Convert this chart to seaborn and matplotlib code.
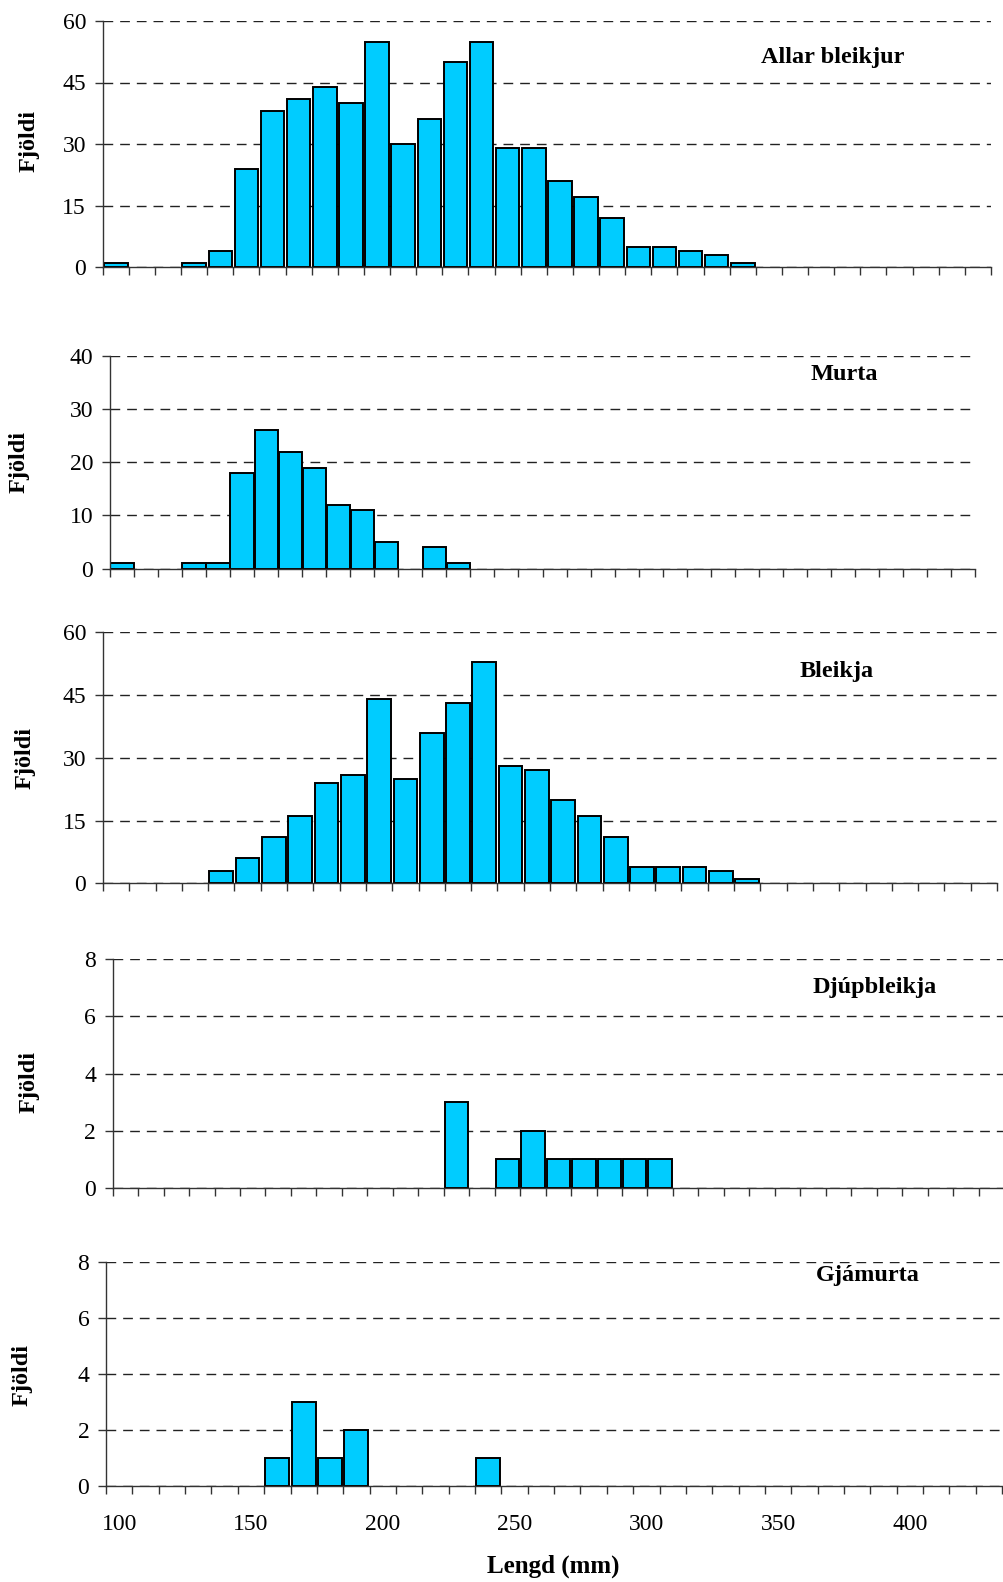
import numpy as np
import pandas as pd
import matplotlib
matplotlib.use("Agg")
import matplotlib.pyplot as plt
import seaborn as sns

# ---------------- data ----------------
categories = ["100", "110", "120", "130", "140", "150", "160", "170", "180", "190",
              "200", "210", "220", "230", "240", "250", "260", "270", "280", "290",
              "300", "310", "320", "330", "340", "350", "360", "370", "380", "390",
              "400", "410", "420", "430", "440", "450"]

allar_bleikjur = [1, 0, 0, 1, 4, 24, 38, 41, 44, 40, 55, 30, 36, 50, 55, 29, 29, 21, 17, 12,
                  5, 5, 4, 3, 1, 0, 0, 0, 0, 0, 0, 0, 0, 0]
murta = [1, 0, 0, 1, 1, 18, 26, 22, 19, 12, 11, 5, 0, 4, 1, 0, 0, 0, 0, 0,
         0, 0, 0, 0, 0, 0, 0, 0, 0, 0, 0, 0, 0, 0, 0, 0]
bleikja = [0, 0, 0, 0, 3, 6, 11, 16, 24, 26, 44, 25, 36, 43, 53, 28, 27, 20, 16, 11,
           4, 4, 4, 3, 1, 0, 0, 0, 0, 0, 0, 0, 0, 0]
djupbleikja = [0, 0, 0, 0, 0, 0, 0, 0, 0, 0, 0, 0, 0, 3, 0, 1, 2, 1, 1, 1,
               1, 1, 0, 0, 0, 0, 0, 0, 0, 0, 0, 0, 0, 0, 0]
gjamurta = [0, 0, 0, 0, 0, 0, 1, 3, 1, 2, 0, 0, 0, 0, 1, 0, 0, 0, 0, 0,
            0, 0, 0, 0, 0, 0, 0, 0, 0, 0, 0, 0, 0, 0]

panel_titles = ["Allar bleikjur", "Murta", "Bleikja", "Djúpbleikja", "Gjámurta"]
x_tick_labels = ["100", "150", "200", "250", "300", "350", "400"]
y_label = "Fjöldi"
x_label = "Lengd (mm)"

# ---------------- style ----------------
plt.rcParams["font.family"] = ["Liberation Serif", "DejaVu Serif"]
plt.rcParams["lines.scale_dashes"] = False

W, H = 1004, 1582
fig = plt.figure(figsize=(W / 100, H / 100), dpi=100)

BAR = "#00CCFF"
AX = "#333333"

# layout in pixels: left, right, top, bottom, ymax, ystep, bar width, title centre, ylabel centre, category spacing
layout = [
    dict(left=102.7, right=991.0, top=21.0, bottom=267.0, ymax=60, ystep=15, bw=0.90,
         title=(833, 57), ylab=(28.7, 141), spacing=None),
    dict(left=110.0, right=975.0, top=355.7, bottom=568.7, ymax=40, ystep=10, bw=0.97,
         title=(844, 375), ylab=(19, 462), spacing=None),
    dict(left=103.0, right=997.0, top=632.3, bottom=883.3, ymax=60, ystep=15, bw=0.90,
         title=(837, 671), ylab=(25.5, 758), spacing=None),
    dict(left=112.7, right=1004.0, top=959.3, bottom=1187.7, ymax=8, ystep=2, bw=0.92,
         title=(875, 987), ylab=(29, 1082), spacing=25.7),
    dict(left=106.0, right=1002.2, top=1262.3, bottom=1486.0, ymax=8, ystep=2, bw=0.91,
         title=(868, 1276), ylab=(21.8, 1375), spacing=None),
]
series = [allar_bleikjur, murta, bleikja, djupbleikja, gjamurta]

for i, (vals, lay, title) in enumerate(zip(series, layout, panel_titles)):
    ax = fig.add_axes([lay["left"] / W, 1 - lay["bottom"] / H,
                       (lay["right"] - lay["left"]) / W, (lay["bottom"] - lay["top"]) / H])
    n = len(vals)
    cats = categories[:n]
    df = pd.DataFrame({"Lengd": cats, "Fjöldi": vals})
    sns.barplot(data=df, x="Lengd", y="Fjöldi", order=cats, ax=ax, color=BAR,
                saturation=1, edgecolor="black", linewidth=1.4, width=lay["bw"], zorder=3)
    # empty classes are not drawn
    for patch in ax.patches:
        if patch.get_height() == 0:
            patch.set_visible(False)

    if lay["spacing"] is not None:
        xmax = -0.5 + (lay["right"] - lay["left"]) / lay["spacing"]
    else:
        xmax = n - 0.5
    ax.set_xlim(-0.5, xmax)
    ax.set_ylim(0, lay["ymax"])
    ax.set_yticks(np.arange(0, lay["ymax"] + 1, lay["ystep"]))
    ax.set_axisbelow(True)
    ax.grid(axis="y", linestyle=(0, (7, 5)), color="#222222", linewidth=1.0, zorder=0)
    ax.grid(axis="x", visible=False)

    for s in ["top", "right"]:
        ax.spines[s].set_visible(False)
    for s in ["left", "bottom"]:
        ax.spines[s].set_color(AX)
        ax.spines[s].set_linewidth(1.0)
        ax.spines[s].set_zorder(4)

    ax.set_xticks(np.arange(n + 1) - 0.5, minor=True)
    ax.tick_params(axis="x", which="minor", length=6, width=1.0, color=AX, direction="out")
    if i == len(series) - 1:
        ax.set_xticks([categories.index(t) for t in x_tick_labels], labels=x_tick_labels)
        ax.tick_params(axis="x", which="major", length=0, pad=20, labelsize=17)
    else:
        ax.set_xticks([])
    ax.tick_params(axis="y", length=6, width=1.0, color=AX, direction="out", pad=6, labelsize=17)
    ax.set_xlabel("")
    ax.set_ylabel("")

    fig.text(lay["title"][0] / W, 1 - lay["title"][1] / H, title, ha="center", va="center",
             fontsize=17.5, fontweight="bold")
    fig.text(lay["ylab"][0] / W, 1 - lay["ylab"][1] / H, y_label, ha="center", va="center",
             rotation=90, fontsize=17.5, fontweight="bold")

fig.text(553 / W, 1 - 1566 / H, x_label, ha="center", va="center", fontsize=18, fontweight="bold")

fig.savefig("out.png", dpi=100, facecolor="white")
